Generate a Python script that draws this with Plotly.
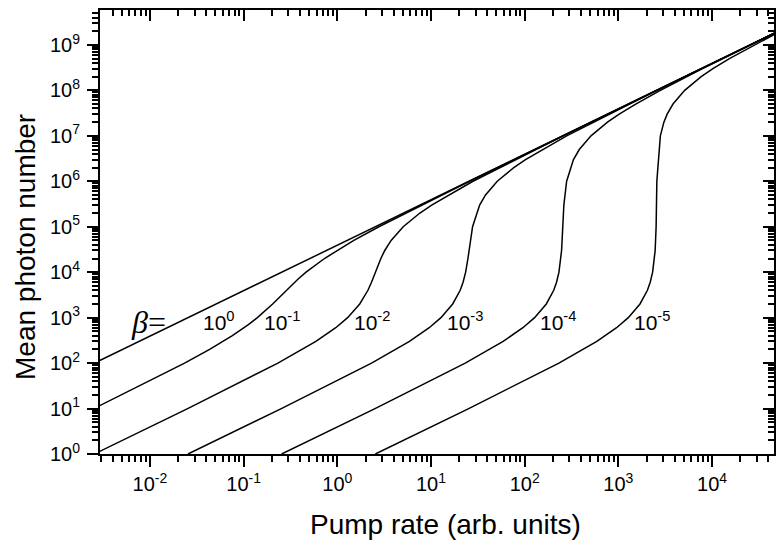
import math
import plotly.graph_objects as go

# ---- data (pump rate, mean photon number) ----
pump_b0 = [0.0029, 50000]
phot_b0 = [113.7, 1.96e9]

pump_b1 = [0.002528, 0.007453, 0.02342, 0.04337, 0.0758, 0.1124, 0.1403, 0.2041, 0.2857,
           0.3795, 0.4638, 0.7289, 1.5006, 2.778, 25.74, 25510, 51020]
phot_b1 = [10, 30, 100, 200, 400, 700, 1000, 2000, 4000,
           7000, 1e4, 2e4, 5e4, 1e5, 1e6, 1e9, 2e9]

pump_b2 = [0.002548, 0.02526, 0.2321, 0.5905, 0.9624, 1.2883, 1.7347, 2.1224, 2.3178, 2.551,
           2.9154, 3.2093, 3.7515, 5.0515, 7.6149, 10.170, 28.033, 257.6, 51024]
phot_b2 = [1, 10, 100, 300, 600, 1000, 2000, 4000, 6000, 1e4,
           2e4, 3e4, 5e4, 1e5, 2e5, 3e5, 1e6, 1e7, 2e9]

pump_b3 = [0.02549, 0.2526, 2.3193, 5.889, 9.572, 12.768, 17.041, 20.490, 21.997, 23.423,
           24.781, 25.428, 27.783, 33.053, 38.189, 50.969, 76.49, 102.006, 280.58, 2576.5, 51046]
phot_b3 = [1, 10, 100, 300, 600, 1000, 2000, 4000, 6000, 1e4,
           2e4, 3e4, 1e5, 3e5, 5e5, 1e6, 2e6, 3e6, 1e7, 1e8, 2e9]

pump_b4 = [0.2548, 2.526, 23.19, 58.87, 95.67, 127.56, 170.10, 204.16, 218.79, 232.14,
           247.61, 255.10, 261.88, 280.33, 331.52, 382.57, 510.15, 765.26, 1020.37, 1530.6,
           2806.1, 7908, 25765, 51275]
phot_b4 = [1, 10, 100, 300, 600, 1000, 2000, 4000, 6000, 1e4,
           3e4, 1e5, 3e5, 1e6, 3e6, 5e6, 1e7, 2e7, 3e7, 5e7,
           1e8, 3e8, 1e9, 2e9]

pump_b5 = [2.548, 25.26, 231.9, 588.7, 956.6, 1275.5, 1700.7, 2040.9, 2186.7, 2319.3,
           2469.4, 2528.3, 2574.0, 2805.8, 3061.0, 3316.2, 3826.4, 5101.9, 7653, 10204,
           15306, 28061, 53571]
phot_b5 = [1, 10, 100, 300, 600, 1000, 2000, 4000, 6000, 1e4,
           3e4, 1e5, 1e6, 1e7, 2e7, 3e7, 5e7, 1e8, 2e8, 3e8,
           5e8, 1e9, 2e9]

beta_labels = ["10<sup>0</sup>", "10<sup>-1</sup>", "10<sup>-2</sup>",
               "10<sup>-3</sup>", "10<sup>-4</sup>", "10<sup>-5</sup>"]
beta_label_x = [0.0547, 0.257, 2.35, 23.1, 226, 2282]   # pump position of each label
beta_label_y = [850, 850, 850, 850, 850, 850]

x_tick_vals = [1e-2, 1e-1, 1e0, 1e1, 1e2, 1e3, 1e4]
x_tick_text = ["10<sup>-2</sup>", "10<sup>-1</sup>", "10<sup>0</sup>", "10<sup>1</sup>",
               "10<sup>2</sup>", "10<sup>3</sup>", "10<sup>4</sup>"]
y_tick_vals = [1e0, 1e1, 1e2, 1e3, 1e4, 1e5, 1e6, 1e7, 1e8, 1e9]
y_tick_text = ["10<sup>%d</sup>" % k for k in range(10)]

series = [(pump_b0, phot_b0), (pump_b1, phot_b1), (pump_b2, phot_b2),
          (pump_b3, phot_b3), (pump_b4, phot_b4), (pump_b5, phot_b5)]

FONT = "Arial, Liberation Sans, sans-serif"
fig = go.Figure()
for px, py in series:
    fig.add_trace(go.Scatter(x=px, y=py, mode="lines",
                             line=dict(color="black", width=1.5),
                             showlegend=False, hoverinfo="skip"))
# invisible trace for mirror axes
fig.add_trace(go.Scatter(x=[1], y=[1], xaxis="x2", yaxis="y2", mode="markers",
                         marker=dict(opacity=0), showlegend=False, hoverinfo="skip"))

XR = [-2.533, 4.661]
YR = [0, 9.768]
common = dict(type="log", showgrid=False, zeroline=False, showline=True,
              linecolor="black", linewidth=2, tickcolor="black", tickwidth=2,
              ticklen=11, automargin=False)
minor_out = dict(ticks="outside", ticklen=6, tickwidth=1.5, tickcolor="black",
                 dtick="D1", showgrid=False)
minor_in = dict(ticks="inside", ticklen=6, tickwidth=1.5, tickcolor="black",
                dtick="D1", showgrid=False)

fig.update_layout(
    width=776, height=543,
    margin=dict(l=100, r=2, t=10, b=89, autoexpand=False),
    paper_bgcolor="white", plot_bgcolor="white",
    font=dict(family=FONT, color="black"),
    xaxis=dict(range=XR, ticks="outside", tickmode="array", tickvals=x_tick_vals,
               ticktext=x_tick_text, tickfont=dict(size=20, family=FONT),
               minor=minor_out, **common),
    yaxis=dict(range=YR, ticks="outside", tickmode="array", tickvals=y_tick_vals,
               ticktext=y_tick_text, tickfont=dict(size=20, family=FONT),
               ticklabelstandoff=3, minor=minor_out, **common),
    xaxis2=dict(range=XR, overlaying="x", side="top", anchor="y2", ticks="inside",
                tickmode="array", tickvals=x_tick_vals, showticklabels=False,
                minor=minor_in, **common),
    yaxis2=dict(range=YR, overlaying="y", side="right", anchor="x2", ticks="inside",
                tickmode="array", tickvals=y_tick_vals, showticklabels=False,
                minor=minor_in, **common),
)

annotations = []
for t, lx, ly in zip(beta_labels, beta_label_x, beta_label_y):
    annotations.append(dict(x=math.log10(lx), y=math.log10(ly),
                            xref="x", yref="y", text=t, showarrow=False,
                            xanchor="center", yanchor="middle",
                            font=dict(size=21, family=FONT)))
annotations.append(dict(x=(148 - 100) / 674, y=(454 - 322) / 444, xref="paper", yref="paper",
                        text="<i>β</i>=", showarrow=False, xanchor="center", yanchor="middle",
                        font=dict(size=32, family="Liberation Serif, Times New Roman, serif")))
annotations.append(dict(x=(445 - 100) / 674, y=(454 - 524) / 444, xref="paper", yref="paper",
                        text="Pump rate (arb. units)", showarrow=False,
                        xanchor="center", yanchor="middle",
                        font=dict(size=28, family=FONT)))
annotations.append(dict(x=(25 - 100) / 674, y=(454 - 247) / 444, xref="paper", yref="paper",
                        text="Mean photon number", textangle=-90, showarrow=False,
                        xanchor="center", yanchor="middle",
                        font=dict(size=28, family=FONT)))
fig.update_layout(annotations=annotations)

fig.write_html("out.html", config={"displayModeBar": False},
               post_script="document.body.style.margin='0';")
